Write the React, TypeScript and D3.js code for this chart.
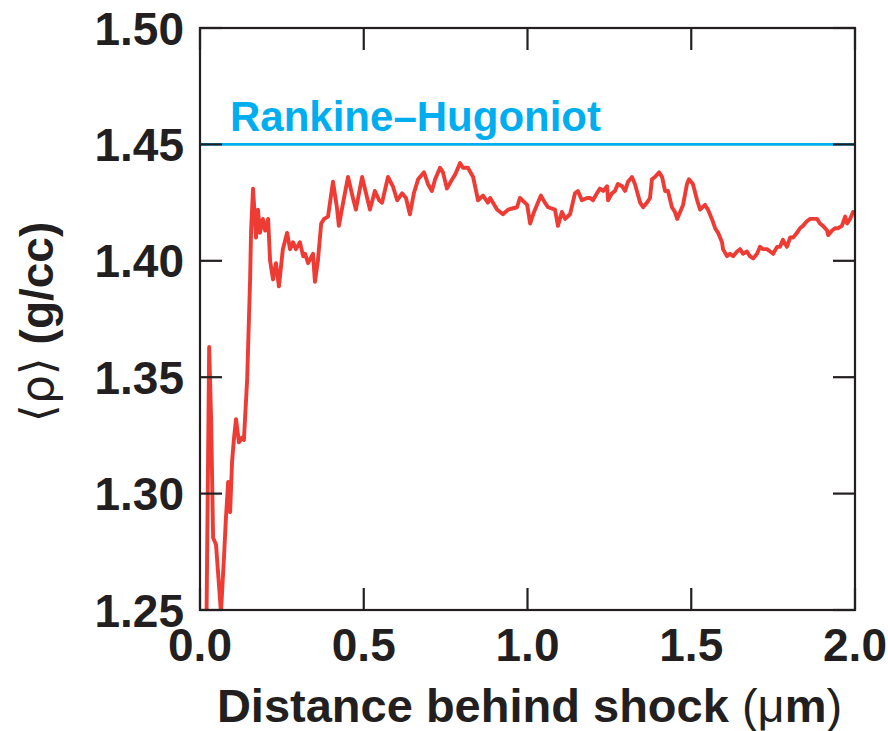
import React from "react";
import * as d3 from "d3";

// Mean density profile behind the shock front
const distance = [
  0.020, 0.028, 0.034, 0.040, 0.049, 0.064, 0.073, 0.079, 0.086, 0.092,
  0.098, 0.104, 0.110, 0.119, 0.128, 0.134, 0.144, 0.153, 0.156, 0.162,
  0.171, 0.177, 0.183, 0.192, 0.199, 0.208, 0.214, 0.223, 0.232, 0.241,
  0.253, 0.266, 0.275, 0.284, 0.293, 0.305, 0.315, 0.321, 0.330, 0.345,
  0.351, 0.360, 0.370, 0.379, 0.391, 0.406, 0.418, 0.424, 0.437, 0.452,
  0.467, 0.476, 0.495, 0.507, 0.519, 0.534, 0.547, 0.556, 0.574, 0.589,
  0.602, 0.617, 0.629, 0.641, 0.653, 0.666, 0.684, 0.696, 0.708, 0.718,
  0.733, 0.742, 0.754, 0.770, 0.779, 0.794, 0.803, 0.818, 0.834, 0.849,
  0.864, 0.879, 0.886, 0.907, 0.925, 0.941, 0.968, 0.977, 0.999, 1.008,
  1.020, 1.032, 1.041, 1.053, 1.063, 1.084, 1.093, 1.105, 1.115, 1.130,
  1.145, 1.154, 1.166, 1.182, 1.191, 1.200, 1.212, 1.221, 1.231, 1.243,
  1.246, 1.258, 1.267, 1.276, 1.289, 1.298, 1.307, 1.319, 1.328, 1.334,
  1.344, 1.353, 1.365, 1.374, 1.380, 1.389, 1.402, 1.411, 1.420, 1.429,
  1.441, 1.450, 1.457, 1.466, 1.475, 1.487, 1.493, 1.505, 1.518, 1.527,
  1.542, 1.551, 1.563, 1.573, 1.582, 1.594, 1.597, 1.609, 1.618, 1.628,
  1.640, 1.649, 1.658, 1.670, 1.679, 1.689, 1.701, 1.710, 1.719, 1.731,
  1.741, 1.750, 1.762, 1.771, 1.780, 1.792, 1.802, 1.811, 1.823, 1.832,
  1.841, 1.853, 1.863, 1.872, 1.884, 1.893, 1.902, 1.915, 1.918, 1.930,
  1.939, 1.948, 1.960, 1.970, 1.976, 1.985, 1.994, 2.000,
];

const density = [
  1.248, 1.363, 1.332, 1.281, 1.278, 1.249, 1.272, 1.289, 1.305, 1.292,
  1.314, 1.324, 1.332, 1.322, 1.324, 1.323, 1.349, 1.392, 1.413, 1.431,
  1.410, 1.422, 1.412, 1.418, 1.413, 1.418, 1.400, 1.392, 1.399, 1.389,
  1.405, 1.412, 1.405, 1.408, 1.405, 1.408, 1.402, 1.403, 1.399, 1.403,
  1.391, 1.400, 1.416, 1.418, 1.419, 1.434, 1.423, 1.415, 1.425, 1.436,
  1.427, 1.422, 1.436, 1.429, 1.422, 1.430, 1.426, 1.425, 1.436, 1.432,
  1.426, 1.429, 1.427, 1.420, 1.429, 1.435, 1.438, 1.433, 1.430, 1.435,
  1.440, 1.438, 1.431, 1.435, 1.437, 1.442, 1.440, 1.440, 1.436, 1.426,
  1.428, 1.425, 1.427, 1.422, 1.420, 1.422, 1.423, 1.427, 1.424, 1.416,
  1.421, 1.425, 1.428, 1.425, 1.423, 1.422, 1.415, 1.421, 1.418, 1.420,
  1.429, 1.430, 1.426, 1.427, 1.427, 1.426, 1.429, 1.431, 1.430, 1.432,
  1.426, 1.429, 1.430, 1.433, 1.432, 1.430, 1.434, 1.436, 1.433, 1.430,
  1.425, 1.423, 1.425, 1.427, 1.435, 1.436, 1.438, 1.436, 1.430, 1.430,
  1.423, 1.421, 1.418, 1.421, 1.424, 1.433, 1.435, 1.433, 1.426, 1.422,
  1.424, 1.422, 1.418, 1.414, 1.412, 1.408, 1.405, 1.402, 1.403, 1.402,
  1.404, 1.405, 1.403, 1.404, 1.402, 1.401, 1.403, 1.406, 1.405, 1.405,
  1.404, 1.403, 1.406, 1.406, 1.409, 1.406, 1.410, 1.410, 1.412, 1.414,
  1.415, 1.417, 1.418, 1.418, 1.418, 1.416, 1.415, 1.413, 1.411, 1.413,
  1.414, 1.414, 1.415, 1.419, 1.416, 1.418, 1.421, 1.420,
];

const rankineHugoniot = 1.45;
const xTicks = [0, 0.5, 1.0, 1.5, 2.0];
const yTicks = [1.25, 1.3, 1.35, 1.4, 1.45, 1.5];

const W = 888;
const H = 731;
const left = 200;
const right = 855;
const top = 28;
const bottom = 610;
const ink = "#231f20";
const red = "#ee3b34";
const cyan = "#00aeef";
const font = "'Liberation Sans', Arial, Helvetica, sans-serif";

export default function App() {
  const x = d3.scaleLinear().domain([0, 2]).range([left, right]);
  const y = d3.scaleLinear().domain([1.25, 1.5]).range([bottom, top]);

  const points = distance.map((d, i) => [d, density[i]] as [number, number]);
  const path = d3
    .line<[number, number]>()
    .x((d) => x(d[0]))
    .y((d) => y(d[1]))(points) as string;

  const tickLen = 22;

  return (
    <svg
      width={W}
      height={H}
      viewBox={`0 0 ${W} ${H}`}
      style={{ position: "absolute", left: 0, top: 0, background: "#fff" }}
    >
      <defs>
        <clipPath id="plot-clip">
          <rect x={left} y={top} width={right - left} height={bottom - top} />
        </clipPath>
      </defs>

      {/* Rankine–Hugoniot reference level */}
      <line
        x1={x(0)}
        x2={x(2)}
        y1={y(rankineHugoniot)}
        y2={y(rankineHugoniot)}
        stroke={cyan}
        strokeWidth={2.6}
      />
      <text
        x={230}
        y={y(rankineHugoniot) - 13}
        fill={cyan}
        fontFamily={font}
        fontWeight="bold"
        fontSize={42}
      >
        Rankine–Hugoniot
      </text>

      {/* density curve */}
      <path
        d={path}
        fill="none"
        stroke={red}
        strokeWidth={3.9}
        strokeLinejoin="round"
        clipPath="url(#plot-clip)"
      />

      {/* frame */}
      <rect
        x={left}
        y={top}
        width={right - left}
        height={bottom - top}
        fill="none"
        stroke={ink}
        strokeWidth={2.2}
      />

      {/* inward ticks on all four sides */}
      {xTicks.map((t) => (
        <g key={`xt${t}`}>
          <line x1={x(t)} x2={x(t)} y1={bottom} y2={bottom - tickLen} stroke={ink} strokeWidth={2.2} />
          <line x1={x(t)} x2={x(t)} y1={top} y2={top + tickLen} stroke={ink} strokeWidth={2.2} />
          <text
            x={x(t)}
            y={661}
            textAnchor="middle"
            fill={ink}
            fontFamily={font}
            fontWeight="bold"
            fontSize={46}
          >
            {t.toFixed(1)}
          </text>
        </g>
      ))}
      {yTicks.map((t) => (
        <g key={`yt${t}`}>
          <line x1={left} x2={left + tickLen} y1={y(t)} y2={y(t)} stroke={ink} strokeWidth={2.2} />
          <line x1={right - tickLen} x2={right} y1={y(t)} y2={y(t)} stroke={ink} strokeWidth={2.2} />
          <text
            x={184}
            y={y(t) + 16.5}
            textAnchor="end"
            fill={ink}
            fontFamily={font}
            fontWeight="bold"
            fontSize={46}
          >
            {t.toFixed(2)}
          </text>
        </g>
      ))}

      {/* axis titles */}
      <text
        x={(left + right) / 2 + 2}
        y={722}
        textAnchor="middle"
        fill={ink}
        fontFamily={font}
        fontWeight="bold"
        fontSize={47}
      >
        Distance behind shock <tspan fontWeight="normal">(μ</tspan>m<tspan fontWeight="normal">)</tspan>
      </text>
      <text
        transform={`translate(53, 322) rotate(-90)`}
        textAnchor="middle"
        fill={ink}
        fontFamily={font}
        fontWeight="bold"
        fontSize={46}
      >
        <tspan fontWeight="normal" fontFamily="'DejaVu Sans', sans-serif">⟨ρ⟩</tspan> (g/cc)
      </text>
    </svg>
  );
}
